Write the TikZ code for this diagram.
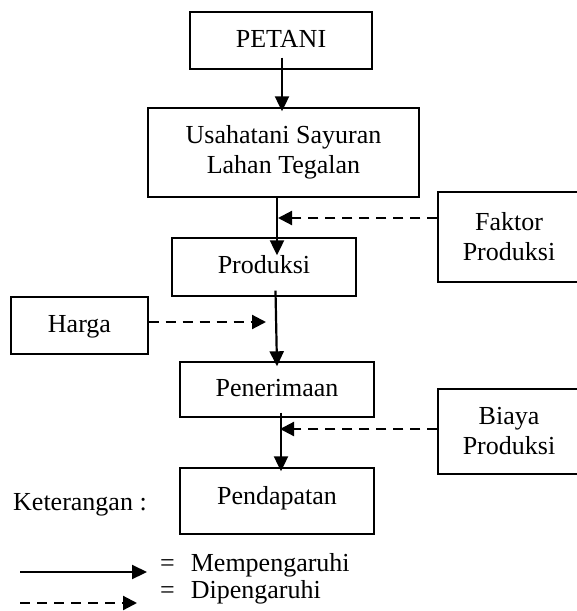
\documentclass[tikz,border=0pt]{standalone}
\usepackage{fontspec}
\setmainfont{Liberation Serif}
\usetikzlibrary{arrows.meta,calc}
\begin{document}
\begin{tikzpicture}[x=1pt,y=-1pt,
  txt/.style={font=\fontsize{26}{30}\selectfont},
  box/.style={draw,line width=1.4pt,inner sep=0pt,align=center,txt},
  one/.style={text height=18pt,text depth=5pt},
  flow/.style={line width=2.2pt,-{Triangle[length=15pt,width=14pt]}},
  infl/.style={line width=2.2pt,dash pattern=on 10pt off 7pt,-{Triangle[length=14pt,width=14pt]}},
  lbl/.style={inner sep=0pt,txt,anchor=west}]
\useasboundingbox (0,0) rectangle (577,611);

\node[box,one,minimum width=182pt,minimum height=57pt] (petani) at (281,40.5) {PETANI};
\node[box,minimum width=271pt,minimum height=89pt] (usaha) at (283.5,152.5) {Usahatani Sayuran\\Lahan Tegalan};
\node[box,minimum width=142pt,minimum height=90pt] (faktor) at (509,237) {Faktor\\Produksi};
\node[box,one,minimum width=184pt,minimum height=58pt] (produksi) at (264,267) {Produksi};
\node[box,one,minimum width=137pt,minimum height=57pt] (harga) at (79.5,325.5) {Harga};
\node[box,one,minimum width=194pt,minimum height=55pt] (penerimaan) at (277,389.5) {Penerimaan};
\node[box,minimum width=142pt,minimum height=85pt] (biaya) at (509,431.5) {Biaya\\Produksi};
\node[box,one,minimum width=194pt,minimum height=66pt,text depth=11pt] (pendapatan) at (277,501) {Pendapatan};

\node[lbl] (ket) at (13,505) {Keterangan :};
\node[lbl] (mem) at (160,565) {=\hspace{16pt}Mempengaruhi};
\node[lbl] (dip) at (160,592) {=\hspace{16pt}Dipengaruhi};

\coordinate (j1) at (278,218);
\coordinate (j2) at (266,322);
\coordinate (j3) at (280,429);
\coordinate (la) at (20,572);
\coordinate (lb) at (147,572);
\coordinate (lc) at (20,603);
\coordinate (ld) at (137,603);

\draw[flow] ($(petani.south)+(1,-12)$) -- ($(usaha.north)+(-1.5,4)$);
\draw[flow] ($(usaha.south)+(-6.5,0)$) -- ($(produksi.north)+(13,18)$);
\draw[infl] ($(faktor.west)+(0,-19)$) -- (j1);
\draw[flow] ($(produksi.south)+(11.5,-6)$) -- ($(penerimaan.north)+(0,5)$);
\draw[infl] ($(harga.east)+(0,-3.5)$) -- (j2);
\draw[flow] ($(penerimaan.south)+(4,-5)$) -- ($(pendapatan.north)+(4,4)$);
\draw[infl] ($(biaya.west)+(0,-2.5)$) -- (j3);

\draw[flow] (la) -- (lb);
\draw[infl] (lc) -- (ld);
\end{tikzpicture}
\end{document}
